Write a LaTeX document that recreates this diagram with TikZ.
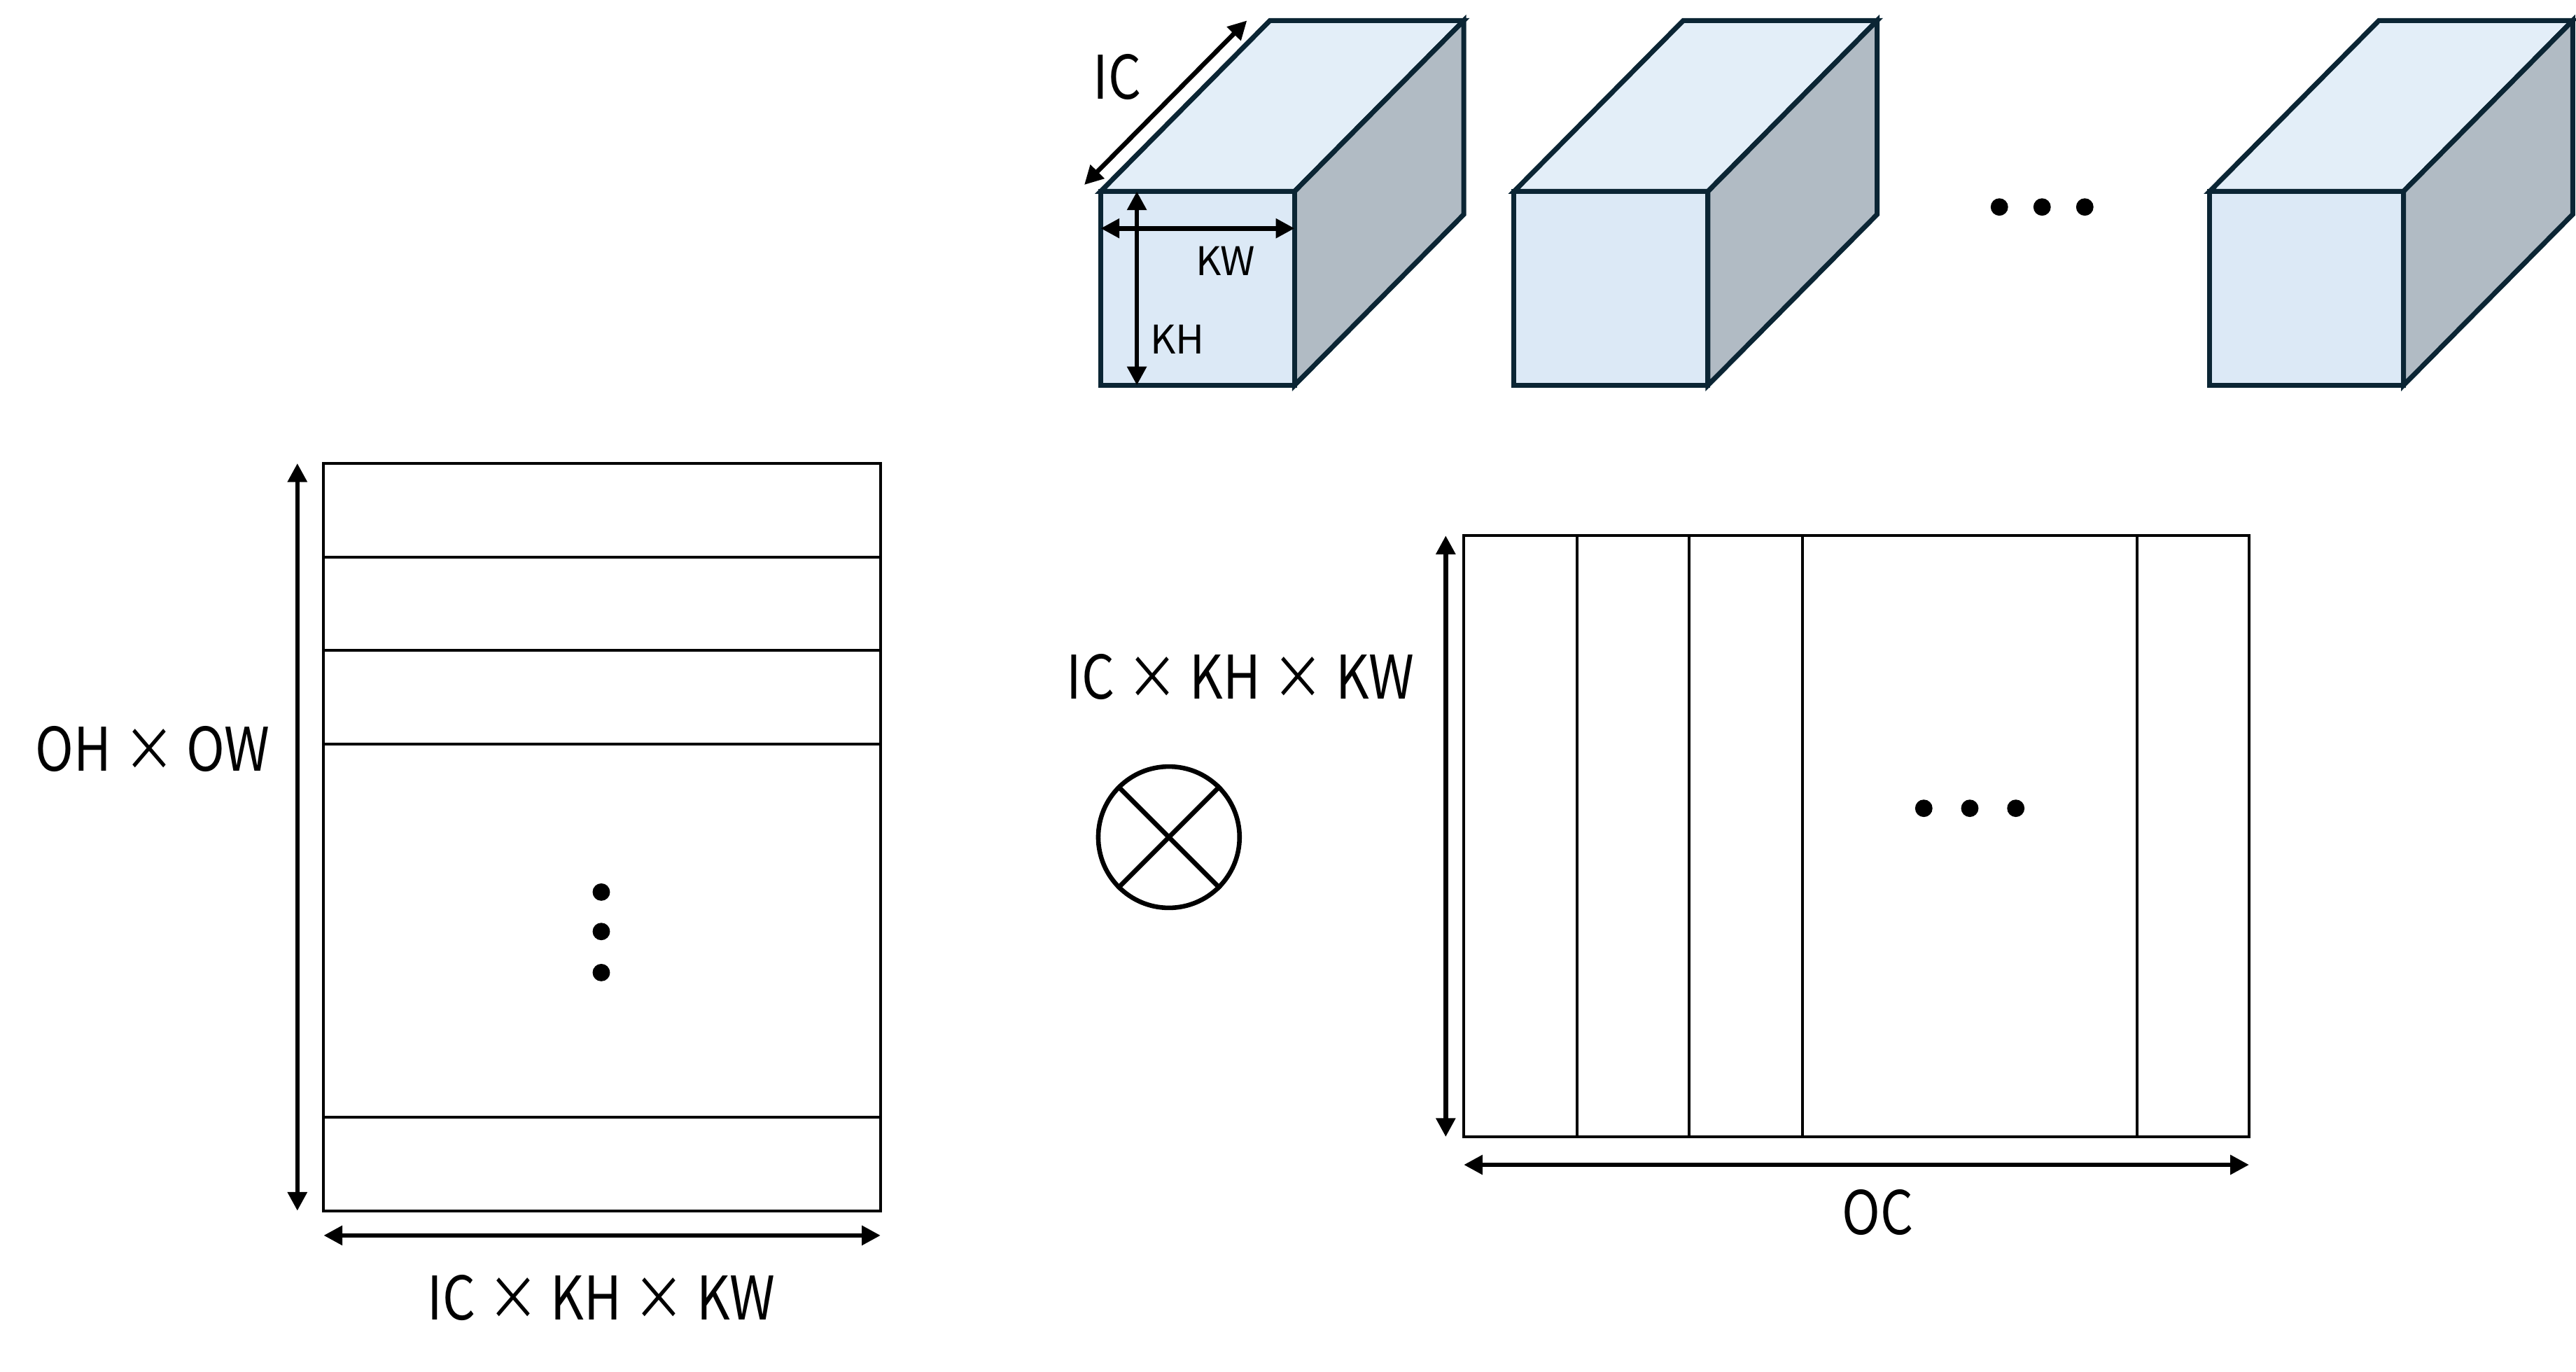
\documentclass[tikz,border=0pt]{standalone}
\usepackage{fontspec}
\setmainfont{Noto Sans CJK JP}
\newfontfamily\narrowfont[FakeStretch=0.86]{Noto Sans CJK JP}
\usetikzlibrary{positioning,calc,arrows.meta}
\definecolor{edgeC}{HTML}{0B2534}
\definecolor{frontC}{HTML}{DCE9F6}
\definecolor{topC}{HTML}{E3EEF8}
\definecolor{sideC}{HTML}{B1BBC4}
\newcommand{\lab}[1]{\narrowfont\fontsize{18.3}{18.3}\selectfont #1}
\newcommand{\slab}[1]{\fontsize{12}{12}\selectfont #1}
\newcommand{\tip}{Triangle[length=5.7pt,width=5.7pt]}
% one filter block: #1 name, #2 x of front face
\newcommand{\filtercube}[2]{%
  \coordinate (#1-a) at (#2,116.5);
  \coordinate (#1-b) at ($(#1-a)+(118,0)$);
  \coordinate (#1-c) at ($(#1-a)+(118,118)$);
  \coordinate (#1-d) at ($(#1-a)+(0,118)$);
  \filldraw[cubeline,fill=topC]  (#1-a) -- ++(103,-104) -- ++(118,0) -- (#1-b) -- cycle;
  \filldraw[cubeline,fill=sideC] (#1-b) -- ++(103,-104) -- ++(0,118) -- (#1-c) -- cycle;
  \filldraw[cubeline,fill=frontC] (#1-a) rectangle (#1-c);
}

\begin{document}
\begin{tikzpicture}[x=0.5pt,y=-0.5pt,
  cubeline/.style={draw=edgeC,line width=1.5pt},
  grid/.style={line width=0.85pt},
  dim/.style={{\tip}-{\tip},line width=1.4pt},
  dot/.style={circle,fill,inner sep=0pt,minimum size=5.3pt}]
\useasboundingbox (0,0) rectangle (1568,835);
%
% filters
\filtercube{c1}{670}
\filtercube{c2}{921.6}
\filtercube{c3}{1345}
\foreach \x [count=\i] in {1217,1243,1269}
  \node[dot] (cd\i) at (\x,126) {};
\coordinate (ic-s) at ($(c1-a)+(-10,-4)$);
\coordinate (ic-e) at ($(c1-a)+(89,-104)$);
\draw[dim] (ic-s) -- (ic-e);
\draw[dim] ($(c1-a)+(0,22.5)$) -- ($(c1-b)+(0,22.5)$);
\draw[dim] ($(c1-a)+(22,0)$) -- ($(c1-d)+(22,0)$);
\node (ic)  at (680,47)  {\lab{IC}};
\node (kw)  at (746,159) {\slab{KW}};
\node (kh)  at (716.6,206.7) {\slab{KH}};
%
% input matrix
\coordinate (L-nw) at (197,282);
\coordinate (L-se) at (536,737);
\coordinate (L-ne) at (L-se|-L-nw);
\coordinate (L-sw) at (L-nw|-L-se);
\draw[grid] (L-nw) rectangle (L-se);
\foreach \y in {339,396,453,680}
  \draw[grid] (L-nw|-0,\y) -- (L-se|-0,\y);
\foreach \y [count=\i] in {543,567,592}
  \node[dot] (ld\i) at (366,\y) {};
\draw[dim] ($(L-nw)+(-16,0)$) -- ($(L-sw)+(-16,0)$);
\draw[dim] ($(L-sw)+(0,15)$) -- ($(L-se)+(0,15)$);
\node (ohow) at (93,456)  {\lab{OH × OW}};
\node (ickl) at (366,790) {\lab{IC × KH × KW}};
%
% product sign
\node[circle,draw,line width=1.4pt,minimum size=43pt,inner sep=0pt] (prod) at (711.5,509.6) {};
\draw[line width=1.4pt] (prod.45) -- (prod.225) (prod.135) -- (prod.315);
\node (ickr) at (755,412) {\lab{IC × KH × KW}};
%
% weight matrix
\coordinate (R-nw) at (891,326);
\coordinate (R-se) at (1369,692);
\coordinate (R-sw) at (R-nw|-R-se);
\draw[grid] (R-nw) rectangle (R-se);
\foreach \x in {960,1028,1097,1301}
  \draw[grid] (\x,326) -- (\x,692);
\foreach \x [count=\i] in {1171,1199,1227}
  \node[dot] (rd\i) at (\x,492) {};
\draw[dim] ($(R-nw)+(-11,0)$) -- ($(R-sw)+(-11,0)$);
\draw[dim] ($(R-sw)+(0,17)$) -- ($(R-se)+(0,17)$);
\node (oc) at (1143,738) {\lab{OC}};
\end{tikzpicture}
\end{document}
